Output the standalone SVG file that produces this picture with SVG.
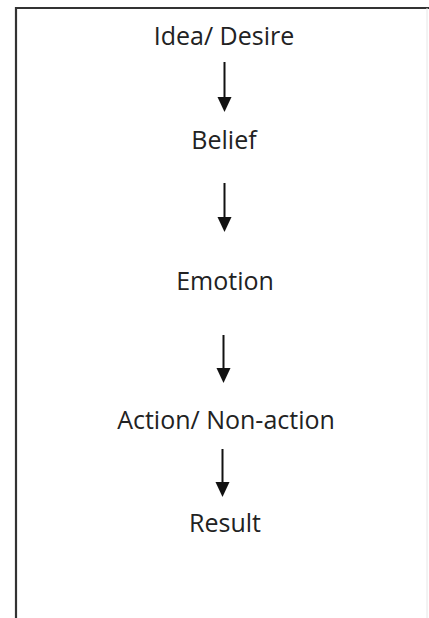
<svg xmlns="http://www.w3.org/2000/svg" width="429" height="618" viewBox="0 0 429 618">
<style>
.lbl{font-family:"Open Sans","Noto Sans","Liberation Sans",sans-serif;font-size:25px;fill:#222;text-anchor:middle}
.conn{stroke:#111;stroke-width:2;fill:none}
.head{fill:#111}
</style>
<rect x="0" y="0" width="429" height="618" fill="#fff"/>
<path d="M16,618 V8 H429" fill="none" stroke="#333" stroke-width="2.2"/>
<line x1="427" y1="8" x2="427" y2="618" stroke="#e6e6e6" stroke-width="1"/>
<g id="node-idea"><text class="lbl" x="224" y="45">Idea/ Desire</text></g>
<g id="node-belief"><text class="lbl" x="224" y="149">Belief</text></g>
<g id="node-emotion"><text class="lbl" x="225" y="290">Emotion</text></g>
<g id="node-action"><text class="lbl" x="226" y="429">Action/ Non-action</text></g>
<g id="node-result"><text class="lbl" x="225" y="532">Result</text></g>
<g id="connectors">
<line class="conn" x1="224.5" y1="62" x2="224.5" y2="99"/>
<polygon class="head" points="217.5,97 231.5,97 224.5,112"/>
<line class="conn" x1="224.5" y1="183" x2="224.5" y2="219"/>
<polygon class="head" points="217.5,217 231.5,217 224.5,232"/>
<line class="conn" x1="223.5" y1="335" x2="223.5" y2="370"/>
<polygon class="head" points="216.5,368 230.5,368 223.5,383"/>
<line class="conn" x1="222.5" y1="449" x2="222.5" y2="484"/>
<polygon class="head" points="215.5,482 229.5,482 222.5,497"/>
</g>
</svg>
